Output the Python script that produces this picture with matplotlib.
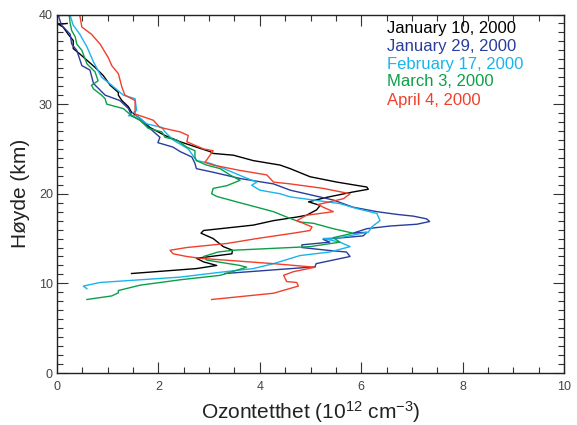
import matplotlib
matplotlib.use("Agg")
import matplotlib.pyplot as plt
from matplotlib.ticker import MultipleLocator

plt.rcParams['font.family'] = ['Liberation Sans', 'DejaVu Sans']
plt.rcParams['mathtext.default'] = 'regular'

labels = ["January 10, 2000", "January 29, 2000", "February 17, 2000",
          "March 3, 2000", "April 4, 2000"]
colors = ["#000000", "#2a3c9c", "#18b4ee", "#0aa048", "#f0402c"]

jan10_x = [1.47, 2.75, 3.15, 2.89, 2.75, 3.45, 3.46, 3.28, 3.08, 2.84, 2.89, 3.87, 4.27,
           4.73, 4.92, 5.12, 5.19, 4.96, 5.32, 5.84, 6.14, 6.11, 5.52, 4.99, 4.60, 4.40,
           3.87, 3.48, 3.08, 3.02, 2.75, 2.43, 2.13, 1.83, 1.64, 1.47, 1.41, 1.28, 1.21,
           1.21, 1.05, 0.91, 0.75, 0.59, 0.45, 0.32, 0.32, 0.22, 0.12, 0.03, 0.20]
jan10_y = [11.1, 11.65, 12.0, 12.4, 12.8, 13.3, 13.7, 14.1, 15.0, 15.6, 15.9, 16.5, 17.0,
           17.4, 17.6, 18.2, 18.7, 19.1, 19.6, 20.2, 20.5, 20.75, 21.3, 21.9, 22.8, 23.2,
           23.7, 24.3, 24.5, 24.7, 25.2, 25.8, 26.5, 27.4, 28.4, 29.1, 29.7, 30.4, 31.0,
           31.3, 32.1, 33.2, 34.1, 34.9, 35.6, 36.2, 37.1, 37.8, 38.6, 38.9, 39.0]

jan29_x = [3.31, 5.09, 5.11, 5.78, 5.71, 5.32, 4.83, 4.83, 5.38, 5.25, 6.04, 6.11, 5.84,
           6.11, 6.57, 7.10, 7.35, 7.29, 7.03, 6.70, 6.31, 5.84, 5.45, 4.60, 4.27, 3.61,
           3.08, 2.75, 2.72, 2.66, 2.43, 2.29, 1.99, 2.03, 1.83, 1.64, 1.47, 1.41, 1.24,
           0.95, 0.72, 0.65, 0.49, 0.39, 0.29, 0.26, 0.09, 0.03, 0.10]
jan29_y = [11.1, 11.85, 12.2, 13.0, 13.5, 13.7, 14.0, 14.3, 14.6, 14.9, 15.3, 15.7, 15.6,
           16.1, 16.4, 16.6, 16.9, 17.2, 17.5, 17.7, 18.0, 18.5, 19.3, 20.4, 21.1, 21.7,
           22.4, 22.8, 23.4, 24.1, 24.7, 25.2, 25.7, 26.3, 27.3, 28.2, 28.7, 29.5, 30.4,
           31.0, 32.3, 33.8, 34.3, 36.0, 36.7, 37.8, 38.8, 39.8, 40.0]

feb17_x = [0.59, 0.52, 0.85, 2.43, 3.31, 3.87, 4.27, 4.79, 5.38, 5.78, 5.58, 5.25, 5.58,
           6.11, 6.14, 6.21, 6.37, 6.31, 5.91, 5.58, 4.60, 4.40, 4.00, 3.84, 3.94, 3.67,
           3.21, 3.02, 2.75, 2.59, 2.29, 2.13, 2.07, 1.77, 1.57, 1.41, 1.57, 1.54, 1.31,
           1.08, 0.88, 0.72, 0.59, 0.45, 0.32, 0.26]
feb17_y = [9.4, 9.7, 10.1, 10.7, 11.3, 11.65, 12.2, 13.1, 13.5, 14.1, 14.6, 15.0, 15.1,
           15.7, 15.7, 16.3, 17.0, 17.8, 18.35, 18.9, 19.65, 20.0, 20.4, 20.95, 21.3, 21.9,
           23.0, 23.4, 23.7, 25.0, 26.0, 26.9, 27.4, 27.8, 28.7, 28.7, 29.3, 30.6, 31.0,
           32.1, 33.0, 34.7, 36.4, 37.8, 38.8, 39.9]

mar3_x = [0.59, 1.08, 1.21, 1.21, 1.64, 2.43, 3.22, 3.74, 3.61, 2.95, 2.89, 3.18, 3.48,
          4.99, 5.58, 5.45, 5.84, 5.45, 5.06, 4.79, 4.53, 4.27, 3.94, 3.54, 3.15, 3.05,
          3.08, 3.35, 3.61, 3.41, 3.22, 2.95, 2.75, 2.72, 2.72, 2.56, 2.36, 2.13, 2.07,
          1.80, 1.64, 1.47, 1.31, 0.98, 0.95, 0.88, 0.72, 0.68, 0.81, 0.75, 0.59, 0.49,
          0.39, 0.36, 0.29, 0.26, 0.24]
mar3_y = [8.2, 8.6, 8.95, 9.2, 9.8, 10.4, 10.9, 11.8, 12.0, 12.6, 13.0, 13.5, 13.7,
          14.1, 14.6, 15.1, 15.6, 16.1, 16.7, 16.85, 17.4, 18.0, 18.5, 19.1, 19.7, 20.0,
          20.6, 20.9, 21.5, 22.1, 22.8, 23.2, 23.7, 24.1, 24.8, 25.2, 26.0, 26.3, 26.9,
          27.3, 28.2, 28.7, 29.5, 30.0, 30.6, 31.0, 31.7, 32.1, 32.6, 33.6, 34.5, 36.0,
          36.7, 37.5, 38.2, 39.0, 39.9]

apr4_x = [3.05, 4.27, 4.76, 4.73, 4.53, 4.47, 4.66, 5.09, 4.27, 2.82, 2.56, 2.29, 2.23,
          2.56, 3.35, 3.94, 4.66, 4.99, 5.03, 4.73, 4.92, 5.45, 5.25, 5.15, 5.65, 5.78,
          5.25, 4.60, 4.27, 4.14, 3.61, 3.08, 2.92, 3.08, 2.89, 2.56, 2.59, 2.43, 2.03,
          1.90, 1.54, 1.54, 1.34, 1.28, 1.21, 1.08, 1.01, 0.85, 0.68, 0.49, 0.45]
apr4_y = [8.2, 8.9, 9.7, 10.1, 10.2, 10.9, 11.3, 11.8, 12.2, 12.8, 13.0, 13.3, 13.7,
          14.0, 14.45, 15.0, 15.6, 15.9, 16.3, 17.0, 17.6, 18.0, 18.5, 18.8, 19.45, 20.0,
          20.6, 21.1, 21.3, 22.1, 22.6, 23.2, 23.5, 24.8, 25.0, 25.8, 26.5, 26.9, 27.4,
          28.2, 28.9, 30.4, 31.0, 31.9, 33.4, 34.3, 35.2, 36.7, 37.8, 38.6, 39.9]

series = [(jan10_x, jan10_y), (jan29_x, jan29_y), (feb17_x, feb17_y),
          (mar3_x, mar3_y), (apr4_x, apr4_y)]

fig = plt.figure(figsize=(5.77, 4.25), dpi=100)
ax_left, ax_bottom, ax_w, ax_h = 57, 52, 507, 358.5
ax = fig.add_axes([ax_left / 577, ax_bottom / 425, ax_w / 577, ax_h / 425])

for (xs, ys), c in zip(series, colors):
    ax.plot(xs, ys, color=c, lw=1.0)

ax.set_xlim(0, 10)
ax.set_ylim(0, 40)
ax.xaxis.set_major_locator(MultipleLocator(2))
ax.xaxis.set_minor_locator(MultipleLocator(0.5))
ax.yaxis.set_major_locator(MultipleLocator(10))
ax.yaxis.set_minor_locator(MultipleLocator(1))
ax.tick_params(which='both', direction='in', top=True, right=True,
               labelsize=9, colors='#333333', labelcolor='#444444', width=0.8)
ax.tick_params(which='major', length=8)
ax.tick_params(axis='x', which='major', pad=6)
ax.tick_params(axis='y', which='major', pad=3)
ax.tick_params(which='minor', length=4)
for s in ax.spines.values():
    s.set_linewidth(1.0)
    s.set_color('#222222')

ax.set_xlabel("Ozontetthet (10$^{12}$ cm$^{-3}$)", fontsize=15, color='#222222', labelpad=4)
ax.set_ylabel("Høyde (km)", fontsize=15, color='#222222', labelpad=6)

for i, (lab, c) in enumerate(zip(labels, colors)):
    py = 28 + i * 18
    ax.text((387 - ax_left) / ax_w, (425 - ax_bottom - py) / ax_h, lab,
            transform=ax.transAxes, color=c, fontsize=12, va='center', ha='left')

fig.savefig("out.png", dpi=100)
